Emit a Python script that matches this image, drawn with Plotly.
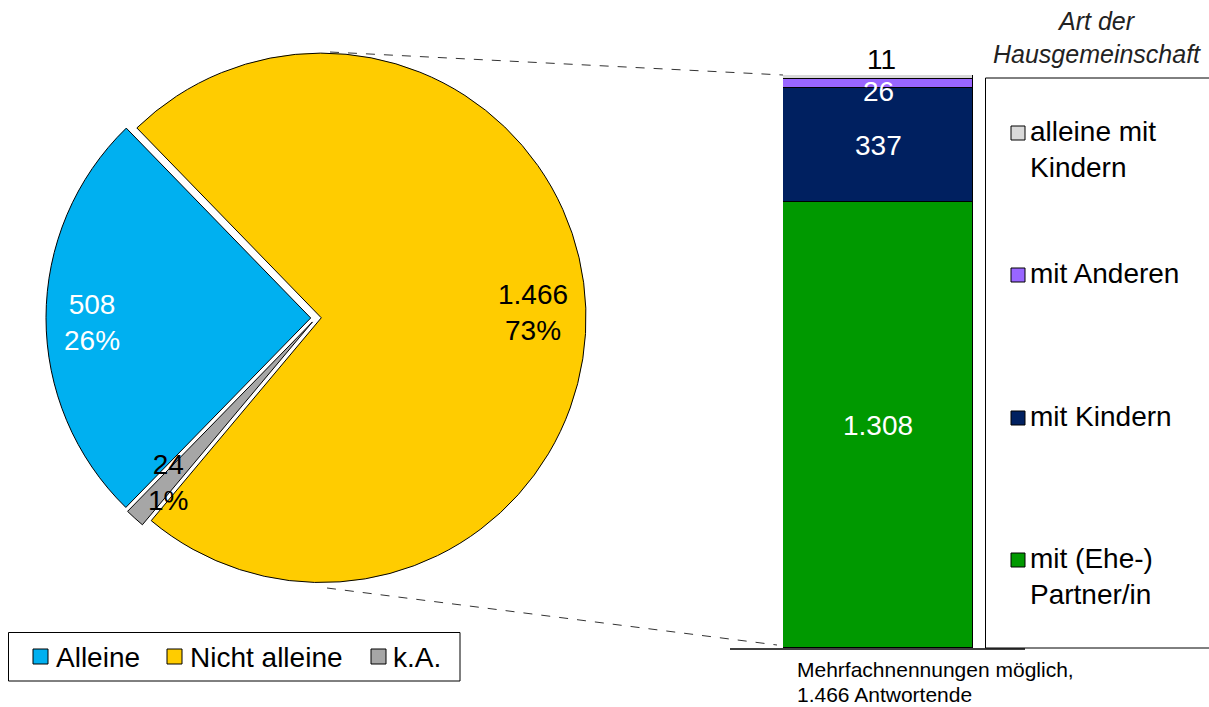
import plotly.graph_objects as go

# Pie: who lives alone
pie_labels = ["Alleine", "Nicht alleine", "k.A."]
pie_values = [508, 1466, 24]
pie_pct = ["26%", "73%", "1%"]
pie_colors = ["#00B0F0", "#FFCC00", "#A6A6A6"]
pie_text_colors = ["white", "black", "black"]

# Stacked bar: type of household (bottom to top)
bar_labels = ["mit (Ehe-)<br>Partner/in", "mit Kindern", "mit Anderen", "alleine mit<br>Kindern"]
bar_values = [1308, 337, 26, 11]
bar_colors = ["#009900", "#002060", "#9966FF", "#D9D9D9"]
bar_text_colors = ["white", "white", "white", "black"]

footnote_lines = ["Mehrfachnennungen möglich,", "1.466 Antwortende"]

W, H = 1209, 707
FONT = "Liberation Sans, Arial, sans-serif"
BIG = 28


def px(x):
    return x / W


def py(y):
    return 1 - y / H


def fmt(v):
    return f"{v:,}".replace(",", ".")


fig = go.Figure()

fig.add_trace(go.Pie(
    labels=pie_labels,
    values=pie_values,
    sort=False,
    direction="clockwise",
    rotation=-135.7,
    pull=[0.02, 0.02, 0.02],
    marker=dict(colors=pie_colors, line=dict(color="black", width=1)),
    textinfo="none",
    hoverinfo="skip",
    showlegend=False,
    domain=dict(x=[px(46), px(586)], y=[py(588), py(48)]),
))

total_bar = sum(bar_values)
for lab, val, col in zip(bar_labels, bar_values, bar_colors):
    fig.add_trace(go.Bar(
        x=[0], y=[val], name=lab,
        marker=dict(color=col, line=dict(color="black", width=1)),
        width=1, showlegend=False, hoverinfo="skip",
    ))

fig.update_layout(
    width=W, height=H,
    margin=dict(l=0, r=0, t=0, b=0),
    paper_bgcolor="white", plot_bgcolor="white",
    barmode="stack", bargap=0,
    showlegend=False,
    font=dict(family=FONT, size=BIG, color="black"),
    xaxis=dict(domain=[px(783), px(973)], range=[-0.5, 0.5], visible=False, fixedrange=True),
    yaxis=dict(domain=[py(648), py(75)], range=[0, total_bar], visible=False, fixedrange=True),
)

annotations = []
shapes = []

# Pie value labels
pie_label_pos = [(92, 322), (533, 312), (168, 482)]
for v, p, c, (lx, ly) in zip(pie_values, pie_pct, pie_text_colors, pie_label_pos):
    annotations.append(dict(
        xref="paper", yref="paper", x=px(lx), y=py(ly),
        text=f"{fmt(v)}<br>{p}", showarrow=False,
        font=dict(size=BIG, color=c, family=FONT),
        xanchor="center", yanchor="middle",
    ))

# Bar value labels
cum = 0
yshifts = [0, 0, -8, 0]
for i, (v, c) in enumerate(zip(bar_values, bar_text_colors)):
    mid = cum + v / 2
    cum += v
    if i == len(bar_values) - 1:
        annotations.append(dict(
            xref="x", yref="y", x=0.02, y=cum, text=fmt(v), showarrow=False,
            font=dict(size=BIG, color=c, family=FONT),
            xanchor="center", yanchor="bottom", yshift=-2,
        ))
    else:
        annotations.append(dict(
            xref="x", yref="y", x=0, y=mid, text=fmt(v), showarrow=False,
            font=dict(size=BIG, color=c, family=FONT),
            xanchor="center", yanchor="middle", yshift=yshifts[i],
        ))

# Dashed connectors between pie and bar
shapes.append(dict(type="line", xref="paper", yref="paper",
                   x0=px(330), y0=py(52), x1=px(783), y1=py(75),
                   line=dict(color="#333333", width=1, dash="dash")))
shapes.append(dict(type="line", xref="paper", yref="paper",
                   x0=px(327), y0=py(588), x1=px(777), y1=py(645),
                   line=dict(color="#333333", width=1, dash="dash")))

# Base line under the bar
shapes.append(dict(type="line", xref="paper", yref="paper",
                   x0=px(730), y0=py(649), x1=px(1025), y1=py(649),
                   line=dict(color="black", width=1.5)))

# Pie legend
shapes.append(dict(type="rect", xref="paper", yref="paper",
                   x0=px(8.5), y0=py(681), x1=px(460), y1=py(632.5),
                   line=dict(color="black", width=1), fillcolor="white"))
pie_leg_x = [(33, 56), (167, 190), (371, 393)]
for lab, col, (sx, tx) in zip(pie_labels, pie_colors, pie_leg_x):
    shapes.append(dict(type="rect", xref="paper", yref="paper",
                       x0=px(sx), y0=py(664), x1=px(sx + 15), y1=py(649),
                       line=dict(color="black", width=1), fillcolor=col))
    annotations.append(dict(xref="paper", yref="paper", x=px(tx - 2), y=py(657),
                            text=lab, showarrow=False, xanchor="left", yanchor="middle",
                            font=dict(size=BIG, color="black", family=FONT)))

# Bar legend
shapes.append(dict(type="rect", xref="paper", yref="paper",
                   x0=px(985.5), y0=py(648), x1=1.01, y1=py(78),
                   line=dict(color="black", width=1), fillcolor="rgba(0,0,0,0)"))
bar_leg_y = [560, 418, 275, 133]
for lab, col, ly in zip(bar_labels, bar_colors, bar_leg_y):
    shapes.append(dict(type="rect", xref="paper", yref="paper",
                       x0=px(1011), y0=py(ly + 7), x1=px(1025), y1=py(ly - 7),
                       line=dict(color="black", width=1), fillcolor=col))
    annotations.append(dict(xref="paper", yref="paper", x=px(1028), y=py(ly - 19),
                            text=lab, showarrow=False, xanchor="left", yanchor="top",
                            align="left",
                            font=dict(size=BIG, color="black", family=FONT)))

# Legend title
annotations.append(dict(xref="paper", yref="paper", x=px(1097), y=py(37),
                        text="<i>Art der<br>Hausgemeinschaft</i>", showarrow=False,
                        xanchor="center", yanchor="middle", align="center",
                        font=dict(size=25, color="#222222", family=FONT)))

# Footnote, one annotation per line
for line, ly in zip(footnote_lines, [669, 694]):
    annotations.append(dict(xref="paper", yref="paper", x=px(795), y=py(ly),
                            text=line, showarrow=False, xanchor="left", yanchor="middle",
                            font=dict(size=21, color="black", family=FONT)))

fig.update_layout(annotations=annotations, shapes=shapes)

fig.write_html("out.html", config={"displayModeBar": False})
